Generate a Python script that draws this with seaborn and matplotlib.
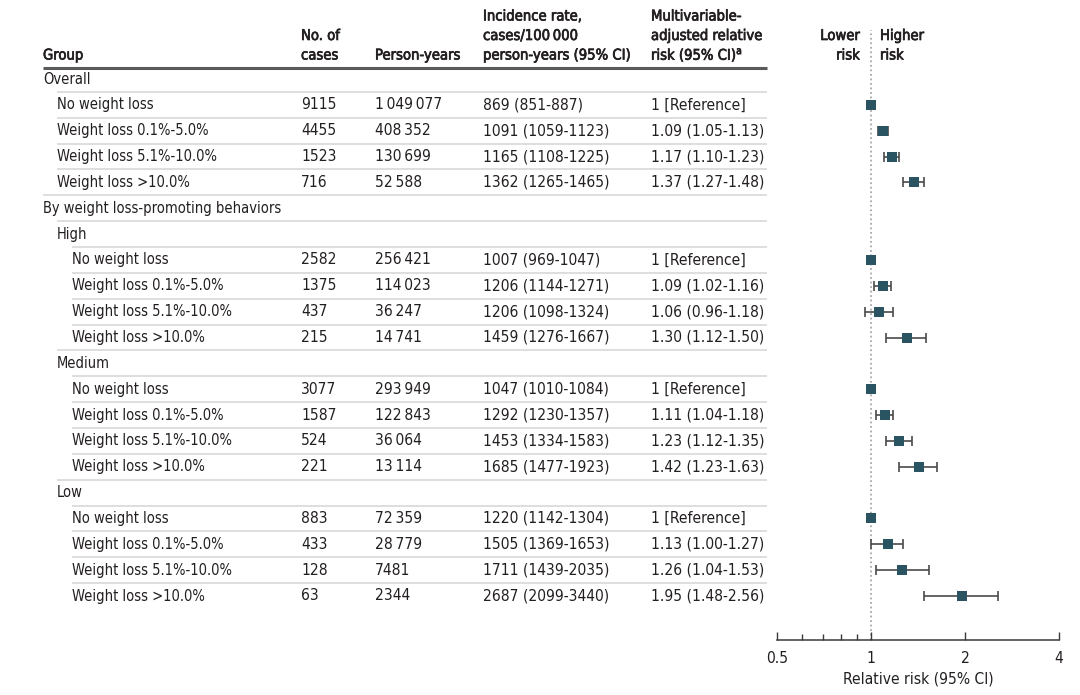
import numpy as np
import pandas as pd
import matplotlib
matplotlib.use("Agg")
import matplotlib.pyplot as plt
import matplotlib.patheffects as pe
import seaborn as sns
from matplotlib.ticker import FixedLocator, NullFormatter

T = "\u2009"
groups = ["Overall", "No weight loss", "Weight loss 0.1%-5.0%", "Weight loss 5.1%-10.0%", "Weight loss >10.0%",
          "By weight loss-promoting behaviors", "High",
          "No weight loss", "Weight loss 0.1%-5.0%", "Weight loss 5.1%-10.0%", "Weight loss >10.0%",
          "Medium",
          "No weight loss", "Weight loss 0.1%-5.0%", "Weight loss 5.1%-10.0%", "Weight loss >10.0%",
          "Low",
          "No weight loss", "Weight loss 0.1%-5.0%", "Weight loss 5.1%-10.0%", "Weight loss >10.0%"]
levels = [0, 1, 1, 1, 1, 0, 1, 2, 2, 2, 2, 1, 2, 2, 2, 2, 1, 2, 2, 2, 2]
cases = ["", "9115", "4455", "1523", "716", "", "", "2582", "1375", "437", "215", "",
         "3077", "1587", "524", "221", "", "883", "433", "128", "63"]
person_years = ["", f"1{T}049{T}077", f"408{T}352", f"130{T}699", f"52{T}588", "", "",
                f"256{T}421", f"114{T}023", f"36{T}247", f"14{T}741", "",
                f"293{T}949", f"122{T}843", f"36{T}064", f"13{T}114", "",
                f"72{T}359", f"28{T}779", "7481", "2344"]
incidence = ["", "869 (851-887)", "1091 (1059-1123)", "1165 (1108-1225)", "1362 (1265-1465)", "", "",
             "1007 (969-1047)", "1206 (1144-1271)", "1206 (1098-1324)", "1459 (1276-1667)", "",
             "1047 (1010-1084)", "1292 (1230-1357)", "1453 (1334-1583)", "1685 (1477-1923)", "",
             "1220 (1142-1304)", "1505 (1369-1653)", "1711 (1439-2035)", "2687 (2099-3440)"]
rr = [np.nan, 1, 1.09, 1.17, 1.37, np.nan, np.nan, 1, 1.09, 1.06, 1.30, np.nan,
      1, 1.11, 1.23, 1.42, np.nan, 1, 1.13, 1.26, 1.95]
rr_lo = [np.nan, np.nan, 1.05, 1.10, 1.27, np.nan, np.nan, np.nan, 1.02, 0.96, 1.12, np.nan,
         np.nan, 1.04, 1.12, 1.23, np.nan, np.nan, 1.00, 1.04, 1.48]
rr_hi = [np.nan, np.nan, 1.13, 1.23, 1.48, np.nan, np.nan, np.nan, 1.16, 1.18, 1.50, np.nan,
         np.nan, 1.18, 1.35, 1.63, np.nan, np.nan, 1.27, 1.53, 2.56]
x_ticks = [0.5, 1, 2, 4]
x_tick_labels = ["0.5", "1", "2", "4"]
x_minor = [0.6, 0.7, 0.8, 0.9]

def rr_text(r, lo, hi):
    if np.isnan(r):
        return ""
    if np.isnan(lo):
        return "1 [Reference]"
    return f"{r:.2f} ({lo:.2f}-{hi:.2f})"

sns.set_theme(style="white")
plt.rcParams["font.family"] = ["DejaVu Sans"]
plt.rcParams["font.stretch"] = "condensed"
plt.rcParams["mathtext.fontset"] = "custom"
plt.rcParams["mathtext.rm"] = "DejaVu Sans:stretch=condensed"

TXT = "#231f20"
MARK = "#2b5462"
W, H = 1080, 695
fig = plt.figure(figsize=(10.8, 6.95), dpi=100)

tab = fig.add_axes([0, 0, 1, 1])
tab.set_xlim(0, W)
tab.set_ylim(H, 0)
tab.axis("off")

y0, step = 79.0, 25.85
n = len(groups)
ys = y0 + np.arange(n) * step
indent_x = {0: 43, 1: 57, 2: 72}
col_x = {"cases": 301, "py": 375, "inc": 483, "rr": 651}
fs = 10.5
fs_num = 11.2
fs_hdr = 10.6
bold_fx = [pe.withStroke(linewidth=0.5, foreground=TXT)]

hdr_y = [16, 35.5, 55]
def hdr_text(x, y, s, ha="left"):
    tab.text(x, y, s, ha=ha, va="center", fontsize=fs_hdr, color=TXT,
             fontstretch="condensed", path_effects=bold_fx)

def hdr(x, lines, ha="left"):
    for k, line in enumerate(lines):
        hdr_text(x, hdr_y[3 - len(lines) + k], line, ha)

hdr(43, ["Group"])
hdr(col_x["cases"], ["No. of", "cases"])
hdr(col_x["py"], ["Person-years"])
hdr(col_x["inc"], ["Incidence rate,", f"cases/100{T}000", "person-years (95% CI)"])
hdr(col_x["rr"], ["Multivariable-", "adjusted relative", r"risk (95% CI)$^\mathregular{a}$"])
tab.plot([43, 767], [67.5, 67.5], color="#5a5a5a", lw=2.2, solid_capstyle="butt")

for i in range(n):
    y = ys[i]
    kw = dict(ha="left", va="center", color=TXT, fontstretch="condensed")
    tab.text(indent_x[levels[i]], y, groups[i], fontsize=fs, **kw)
    tab.text(col_x["cases"], y, cases[i], fontsize=fs_num, **kw)
    tab.text(col_x["py"], y, person_years[i], fontsize=fs_num, **kw)
    tab.text(col_x["inc"], y, incidence[i], fontsize=fs_num, **kw)
    tab.text(col_x["rr"], y, rr_text(rr[i], rr_lo[i], rr_hi[i]), fontsize=fs_num, **kw)
    if i >= 1:
        ly = y - step / 2
        tab.plot([indent_x[levels[i]], 767], [ly, ly], color="#d4d4d4", lw=1.1,
                 solid_capstyle="butt")

fx0, fx1 = 777, 1059
fy_top, fy_bot = 30, 640
ax = fig.add_axes([fx0 / W, 1 - fy_bot / H, (fx1 - fx0) / W, (fy_bot - fy_top) / H])
ax.set_facecolor("none")
ax.set_xscale("log", base=2)
ax.set_xlim(0.5, 4)
ax.set_ylim(fy_bot, fy_top)

df = pd.DataFrame({"y": ys, "rr": rr, "lo": rr_lo, "hi": rr_hi})
ax.axvline(1, color="#a8a8a8", lw=1.3, ls=(0, (1, 1.5)), zorder=0)
ci = df.dropna(subset=["lo"])
ax.errorbar(ci["rr"], ci["y"], xerr=[ci["rr"] - ci["lo"], ci["hi"] - ci["rr"]], fmt="none",
            ecolor="#4a4a4a", elinewidth=1.2, capsize=3.5, capthick=1.2, zorder=2)
sns.scatterplot(data=df.dropna(subset=["rr"]), x="rr", y="y", marker="s", s=62, color=MARK,
                edgecolor=MARK, linewidth=0, ax=ax, zorder=3)

for sp in ["top", "right", "left"]:
    ax.spines[sp].set_visible(False)
ax.spines["bottom"].set_color("#3a3a3a")
ax.spines["bottom"].set_linewidth(1.1)
ax.xaxis.set_major_locator(FixedLocator(x_ticks))
ax.set_xticklabels(x_tick_labels)
ax.xaxis.set_minor_locator(FixedLocator(x_minor))
ax.xaxis.set_minor_formatter(NullFormatter())
ax.tick_params(axis="x", which="both", direction="in", color="#3a3a3a", width=1.0,
               labelsize=fs_num, labelcolor=TXT, pad=8, bottom=True)
ax.tick_params(axis="x", which="major", length=5.5)
ax.tick_params(axis="x", which="minor", length=4.5)
ax.set_yticks([])
ax.set_xlabel("Relative risk (95% CI)", fontsize=fs_num, color=TXT, labelpad=4)
ax.set_ylabel("")

for x, ha, words in [(860, "right", ["Lower", "risk"]), (880, "left", ["Higher", "risk"])]:
    hdr_text(x, 35.5, words[0], ha)
    hdr_text(x, 55, words[1], ha)

fig.savefig("out.png", dpi=100)
